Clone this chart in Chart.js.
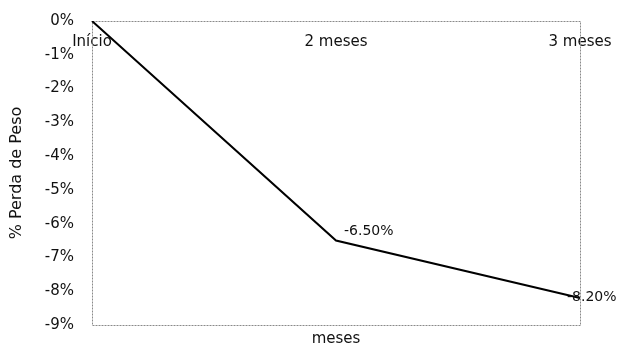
<!DOCTYPE html>
<html>
<head>
<meta charset="utf-8">
<script src="https://cdn.jsdelivr.net/npm/chart.js@4/dist/chart.umd.min.js"></script>
<style>
html,body{margin:0;padding:0;background:#fff;}
#wrap{width:617px;height:348px;}
</style>
</head>
<body>
<div id="wrap"><canvas id="c" width="617" height="348"></canvas></div>
<script>
const categories = ['Início', '2 meses', '3 meses'];
const perdaPeso = [0, -6.5, -8.2];
const pointLabels = ['', '-6.50%', '-8.20%'];
const yTicks = [0, -1, -2, -3, -4, -5, -6, -7, -8, -9];

const FONT = '"DejaVu Sans", sans-serif';
const FS = 15;

function noPad(s) { s.paddingLeft = 0; s.paddingRight = 0; s.paddingTop = 0; s.paddingBottom = 0; }

const borderPlugin = {
  id: 'plotBorder',
  beforeDatasetsDraw(chart) {
    const a = chart.chartArea, ctx = chart.ctx;
    ctx.save();
    ctx.strokeStyle = '#8a8a8a';
    ctx.lineWidth = 1;
    ctx.setLineDash([2, 1]);
    ctx.strokeRect(Math.round(a.left) + 0.5, Math.round(a.top) + 0.5,
      Math.round(a.right - a.left), Math.round(a.bottom - a.top));
    ctx.restore();
  }
};

const labelOffsets = [[0, 0], [8, -9], [-13, -1]];
const labelPlugin = {
  id: 'pointLabels',
  afterDatasetsDraw(chart) {
    const ctx = chart.ctx;
    const meta = chart.getDatasetMeta(0);
    ctx.save();
    ctx.font = '14px ' + FONT;
    ctx.fillStyle = '#111';
    ctx.textAlign = 'left';
    ctx.textBaseline = 'middle';
    meta.data.forEach((pt, i) => {
      if (!pointLabels[i]) return;
      ctx.fillText(pointLabels[i], pt.x + labelOffsets[i][0], pt.y + labelOffsets[i][1]);
    });
    ctx.restore();
  }
};

new Chart(document.getElementById('c'), {
  type: 'line',
  data: {
    labels: categories,
    datasets: [{
      data: perdaPeso,
      borderColor: '#000',
      borderWidth: 2,
      pointRadius: 0,
      tension: 0,
      fill: false
    }]
  },
  options: {
    responsive: false,
    animation: false,
    devicePixelRatio: 1,
    layout: { padding: { left: 0, top: 21, right: 37, bottom: 0 } },
    plugins: { legend: { display: false }, tooltip: { enabled: false } },
    scales: {
      x: {
        position: { y: 0 },
        offset: false,
        grid: { display: false, drawTicks: false },
        border: { display: false },
        ticks: { color: '#111', font: { family: FONT, size: FS }, padding: 12, maxRotation: 0, autoSkip: false },
        afterFit(s) { s.height = 0; noPad(s); }
      },
      x2: {
        position: 'bottom',
        type: 'category',
        labels: categories,
        offset: false,
        grid: { display: false, drawTicks: false },
        border: { display: false },
        ticks: { display: false },
        title: { display: true, text: 'meses', color: '#111', font: { family: FONT, size: FS }, padding: { top: 7, bottom: 0 } },
        afterFit(s) { s.height = 23; noPad(s); }
      },
      y: {
        min: -9,
        max: 0,
        afterBuildTicks(s) { s.ticks = yTicks.map(v => ({ value: v })); },
        grid: { display: false, drawTicks: false },
        border: { display: false },
        ticks: { color: '#111', font: { family: FONT, size: FS }, padding: 18, callback: v => v + '%' },
        title: { display: true, text: '% Perda de Peso', color: '#111', font: { family: FONT, size: 16 }, padding: { top: 7, bottom: 0 } },
        afterFit(s) { s.width = 92; noPad(s); }
      }
    }
  },
  plugins: [borderPlugin, labelPlugin]
});
</script>
</body>
</html>
